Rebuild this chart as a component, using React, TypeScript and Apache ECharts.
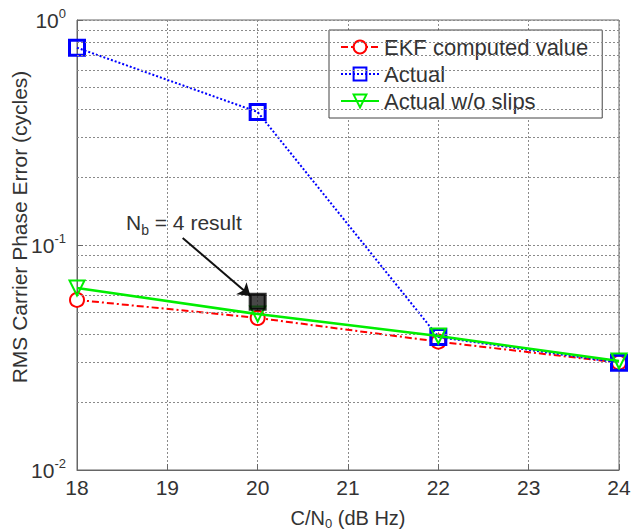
import React, { useEffect, useRef } from "react";
import * as echarts from "echarts";

const xTicks = [18, 19, 20, 21, 22, 23, 24];
const cn0 = [18, 20, 22, 24];
const ekfValues = [0.057, 0.0474, 0.0372, 0.03];
const actualValues = [0.753, 0.39, 0.039, 0.03];
const noSlipValues = [0.0644, 0.0493, 0.0394, 0.0305];
const nb4Point = [[20, 0.056]];
const minorGrid = [0.02, 0.03, 0.04, 0.05, 0.06, 0.07, 0.08, 0.09, 0.2, 0.3, 0.4, 0.5, 0.6, 0.7, 0.8, 0.9];
const arrowFrom = [19.17, 0.1075];
const arrowTo = [19.92, 0.0593];

const FONT = "Liberation Sans";
const GRID_COLOR = "#8a8a8a";

export default function App() {
  const ref = useRef<HTMLDivElement>(null);
  useEffect(() => {
    const chart = echarts.init(ref.current!, null, { renderer: "svg" });
    const pair = (vals: number[]) => cn0.map((x, i) => [x, vals[i]]);
    chart.setOption({
      animation: false,
      backgroundColor: "#fff",
      textStyle: { fontFamily: FONT },
      grid: {
        left: 77,
        top: 20,
        right: 13,
        bottom: 62,
        show: true,
        borderColor: "#666",
        borderWidth: 1,
        backgroundColor: "transparent",
        containLabel: false,
        outerBoundsMode: "none",
      },
      legend: {
        data: ["EKF computed value", "Actual", "Actual w/o slips"],
        orient: "vertical",
        left: 329,
        top: 30,
        padding: [6, 14, 6, 11],
        itemGap: 5,
        itemWidth: 38,
        itemHeight: 16,
        borderColor: "#444",
        borderWidth: 1,
        backgroundColor: "#fff",
        textStyle: { fontSize: 22, color: "#333", fontFamily: FONT },
        itemTextGap: 13,
      },
      xAxis: {
        type: "value",
        min: 18,
        max: 24,
        interval: 1,
        name: "{a|C/N}{s|0}{a| (dB Hz)}",
        nameLocation: "middle",
        nameGap: 35,
        nameTextStyle: {
          rich: {
            a: { fontSize: 20, color: "#333", fontFamily: FONT },
            s: { fontSize: 13, color: "#333", fontFamily: FONT, verticalAlign: "bottom", padding: [12, 0, 0, 0] },
          },
        },
        axisLine: { lineStyle: { color: "#666" } },
        axisTick: { inside: true, length: 6, lineStyle: { color: "#666" } },
        axisLabel: {
          fontSize: 21,
          color: "#333",
          margin: 7,
          formatter: (v: number) => (xTicks.includes(v) ? String(v) : ""),
        },
        splitLine: { show: true, lineStyle: { color: GRID_COLOR, type: [2, 2], width: 1 } },
      },
      yAxis: {
        type: "log",
        logBase: 10,
        min: 0.01,
        max: 1,
        axisLine: { lineStyle: { color: "#666" } },
        axisTick: { inside: true, length: 6, lineStyle: { color: "#666" } },
        axisLabel: {
          margin: 11,
          formatter: (v: number) => {
            const e = Math.round(Math.log10(v));
            return `{b|10}{s|${e}}`;
          },
          rich: {
            b: { fontSize: 21, color: "#333", fontFamily: FONT },
            s: { fontSize: 13, color: "#333", fontFamily: FONT, verticalAlign: "top", padding: [0, 0, 14, 0] },
          },
        },
        splitLine: { show: true, lineStyle: { color: GRID_COLOR, type: [2, 2], width: 1 } },
      },
      graphic: [
        {
          type: "text",
          x: 19,
          y: 227,
          rotation: Math.PI / 2,
          style: {
            text: "RMS Carrier Phase Error (cycles)",
            fontSize: 21,
            fill: "#333",
            fontFamily: FONT,
            align: "center",
            verticalAlign: "middle",
          },
        },
        {
          type: "text",
          left: 126,
          top: 212,
          style: {
            text: "{a|N}{s|b}{a| = 4 result}",
            rich: {
              a: { fontSize: 21, fill: "#333", fontFamily: FONT },
              s: { fontSize: 14, fill: "#333", fontFamily: FONT, padding: [14, 0, 0, 0] },
            },
          },
        },
      ],
      series: [
        {
          name: "minor",
          type: "line",
          data: [],
          silent: true,
          markLine: {
            silent: true,
            symbol: ["none", "none"],
            label: { show: false },
            lineStyle: { color: GRID_COLOR, type: [2, 2], width: 1 },
            data: minorGrid.map((v) => ({ yAxis: v })),
          },
        },
        {
          name: "EKF computed value",
          type: "line",
          data: pair(ekfValues),
          symbol: "circle",
          symbolSize: 14,
          itemStyle: { color: "#fff", borderColor: "#ff0000", borderWidth: 2 },
          lineStyle: { color: "#ff0000", width: 2, type: [7, 3, 2, 3] },
          color: "#ff0000",
          z: 3,
        },
        {
          name: "Actual",
          type: "line",
          data: pair(actualValues),
          symbol: "rect",
          symbolSize: 15,
          itemStyle: { color: "rgba(255,255,255,0)", borderColor: "#0000ff", borderWidth: 3 },
          lineStyle: { color: "#0000ff", width: 2, type: [2, 2] },
          color: "#0000ff",
          z: 4,
        },
        {
          name: "Actual w/o slips",
          type: "line",
          data: pair(noSlipValues),
          symbol: "triangle",
          symbolRotate: 180,
          symbolSize: 15,
          itemStyle: { color: "rgba(255,255,255,0)", borderColor: "#00ee00", borderWidth: 2 },
          lineStyle: { color: "#00ee00", width: 2.5, type: "solid" },
          color: "#00ee00",
          z: 5,
        },
        {
          name: "Nb4",
          type: "scatter",
          data: nb4Point,
          symbol: "rect",
          symbolSize: 15,
          itemStyle: { color: "#1a1a1a", borderColor: "#000", borderWidth: 3 },
          z: 6,
          markLine: {
            silent: true,
            symbol: ["none", "arrow"],
            symbolSize: 12,
            label: { show: false },
            lineStyle: { color: "#111", width: 2, type: "solid" },
            data: [[{ coord: arrowFrom }, { coord: arrowTo }]],
          },
        },
      ],
    });
    return () => chart.dispose();
  }, []);
  return <div ref={ref} style={{ position: "absolute", left: 0, top: 0, width: 632, height: 532 }} />;
}
